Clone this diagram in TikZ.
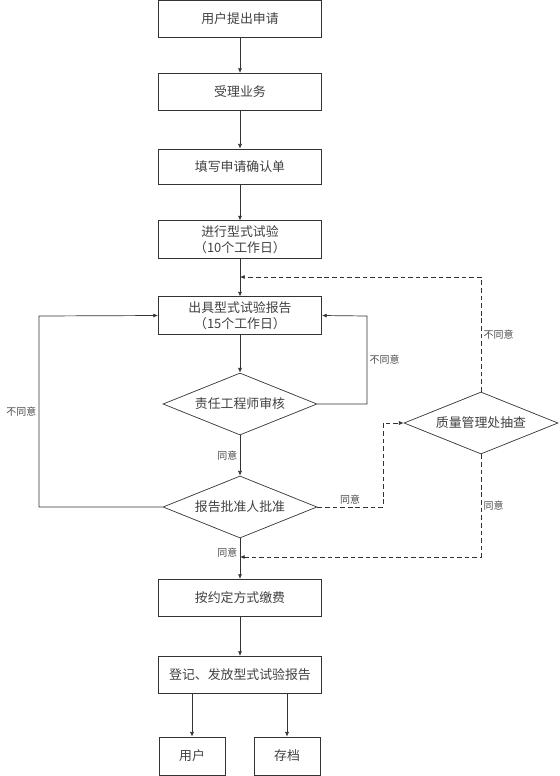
\documentclass[tikz,border=0pt]{standalone}
\usepackage{fontspec}
\setmainfont{Noto Sans CJK SC}
\usepackage{tikz}
\usetikzlibrary{shapes.geometric, arrows.meta, positioning}

\begin{document}
\begin{tikzpicture}[
  x=0.03cm, y=-0.03cm,
  line width=0.6pt, draw=black!80,
  box/.style={draw=black!80, minimum width=4.9cm, minimum height=1.12cm, align=center, inner sep=1pt, font=\fontsize{11}{14}\selectfont, text=black!75},
  smallbox/.style={box, minimum width=1.98cm, minimum height=1.14cm},
  choice/.style={draw=black!80, diamond, aspect=2.5, inner sep=0pt, minimum width=4.62cm, minimum height=1.86cm, font=\fontsize{11}{14}\selectfont, text=black!75},
  lbl/.style={font=\fontsize{8.5}{10}\selectfont, text=black!70, inner sep=2pt},
  arr/.style={-{Latex[length=4pt, width=3.5pt]}},
  back/.style={arr, dash pattern=on 4pt off 2.5pt}
]
  \useasboundingbox (0,0) rectangle (560,776);

  \node[box] (apply) at (240,19) {用户提出申请};
  \node[box] (accept) at (240,92) {受理业务};
  \node[box, minimum height=1.05cm] (confirm) at (240,166.5) {填写申请确认单};
  \node[box] (test) at (240,239.5) {进行型式试验\\（10个工作日）};
  \node[box] (report) at (240,315.5) {出具型式试验报告\\（15个工作日）};
  \node[choice] (review) at (240,404) {责任工程师审核};
  \node[choice] (approve) at (240,507) {报告批准人批准};
  \node[choice] (check) at (481,423) {质量管理处抽查};
  \node[box] (pay) at (240,598) {按约定方式缴费};
  \node[box] (issue) at (240,675) {登记、发放型式试验报告};
  \node[smallbox] (user) at (192,756) {用户};
  \node[smallbox] (archive) at (287,756) {存档};

  \coordinate (redo) at (240,277);
  \coordinate (pass) at (240,557);

  \draw[arr] (apply) -- (accept);
  \draw[arr] (accept) -- (confirm);
  \draw[arr] (confirm) -- (test);
  \draw[arr] (test) -- (report);
  \draw[arr] (report) -- (review);
  \draw[arr] (review) -- node[left, lbl]{同意} (approve);
  \draw[arr] (approve) -- node[left, lbl, pos=0.36]{同意} (pay);
  \draw[arr] (pay) -- (issue);
  \draw[arr] (issue.south -| user) -- (user);
  \draw[arr] (issue.south -| archive) -- (archive);

  % loops back to the report
  \draw[arr] (approve.west) -- (39,507) -- node[left, lbl]{不同意} (39,316) -- (report.west);
  \draw[arr] (review.east) -- (367,404) -- node[right, lbl]{不同意} (367,316) -- (report.east);

  % spot check
  \draw[back] (approve.east) -- node[above, lbl]{同意} (383,507) -- (383,423) -- (check.west);
  \draw[back] (check.north) -- node[right, lbl]{不同意} (481,277) -- (redo);
  \draw[back] (check.south) -- node[right, lbl]{同意} (481,557) -- (pass);
\end{tikzpicture}
\end{document}
